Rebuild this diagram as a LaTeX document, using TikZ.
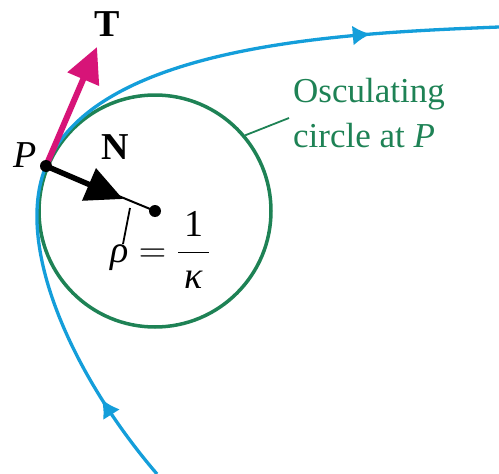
\RequirePackage{fix-cm}
\documentclass[tikz,border=0pt]{standalone}
\usepackage{fontspec}
\setmainfont{Liberation Serif}
\usetikzlibrary{arrows.meta,decorations.markings}
\definecolor{curveblue}{RGB}{20,158,218}
\definecolor{oscgreen}{RGB}{30,130,85}
\definecolor{tmag}{RGB}{215,20,120}
\begin{document}
\begin{tikzpicture}[x=1pt,y=-1pt,
  curve/.style={draw=curveblue,line width=3.3pt},
  flowtip/.style={postaction={decorate},decoration={markings,
      mark=at position #1 with {\arrow{Latex[length=18pt,width=20pt]}}}},
  dot/.style={circle,fill=black,inner sep=0pt,minimum size=12pt},
  lbl/.style={inner sep=0pt,font=\fontsize{38}{44}\selectfont},
  vecT/.style={draw=tmag,line width=6pt,-{Triangle[length=35pt,width=33pt]}},
  vecN/.style={draw=black,line width=5.5pt,-{Triangle[length=37pt,width=34pt]}},
  leader/.style={line width=1.8pt}]
\useasboundingbox (0,0) rectangle (499,474);
% key points
\coordinate (P) at (46,166);
\coordinate (C) at (155,211);
\coordinate (start) at (157,474);
\coordinate (end) at (499,27);
\coordinate (Ttip) at (97,47);
\coordinate (Ntip) at (123,199);
% osculating circle
\node[circle,draw=oscgreen,line width=3.5pt,minimum size=232pt,inner sep=0pt] (osc) at (C) {};
% the curve
\draw[curve,flowtip=93pt] (start) .. controls (72,375) and (13.6,244.6) .. (P);
\draw[curve,flowtip=366pt] (P) .. controls (96.8,43) and (349,33) .. (end);
% radius and vectors
\draw[line width=2pt] (P) -- (C);
\draw[vecN] (P) -- (Ntip);
\draw[vecT] (P) -- (Ttip);
\node[dot] (Pdot) at (P) {};
\node[dot] (Cdot) at (C) {};
% labels
\node[lbl,font=\fontsize{38}{44}\selectfont\bfseries] (Tlab) at (107.5,24) {T};
\node[lbl,font=\fontsize{38}{44}\selectfont\bfseries] (Nlab) at (115,147.5) {N};
\node[lbl,font=\fontsize{38}{44}\selectfont\itshape] (Plab) at (25,155.5) {P};
\node[lbl,anchor=base west] (rho) at (110,262)
  {$\displaystyle \mbox{\itshape ρ} = \frac{\mbox{1}}{\mbox{\,\itshape κ\,}}$};
\coordinate (rholead) at (123,244);
\coordinate (radpt) at (130,208);
\draw[leader] (rholead) -- (radpt);
\node[anchor=base west,align=left,inner sep=0pt,text=oscgreen,
  font=\fontsize{35}{45}\selectfont] (osclab) at (293,147)
  {Osculating\\circle at \textit{P}};
\coordinate (oscleadstart) at (289,118);
\draw[leader,draw=oscgreen] (oscleadstart) -- (osc.40);
\end{tikzpicture}
\end{document}
